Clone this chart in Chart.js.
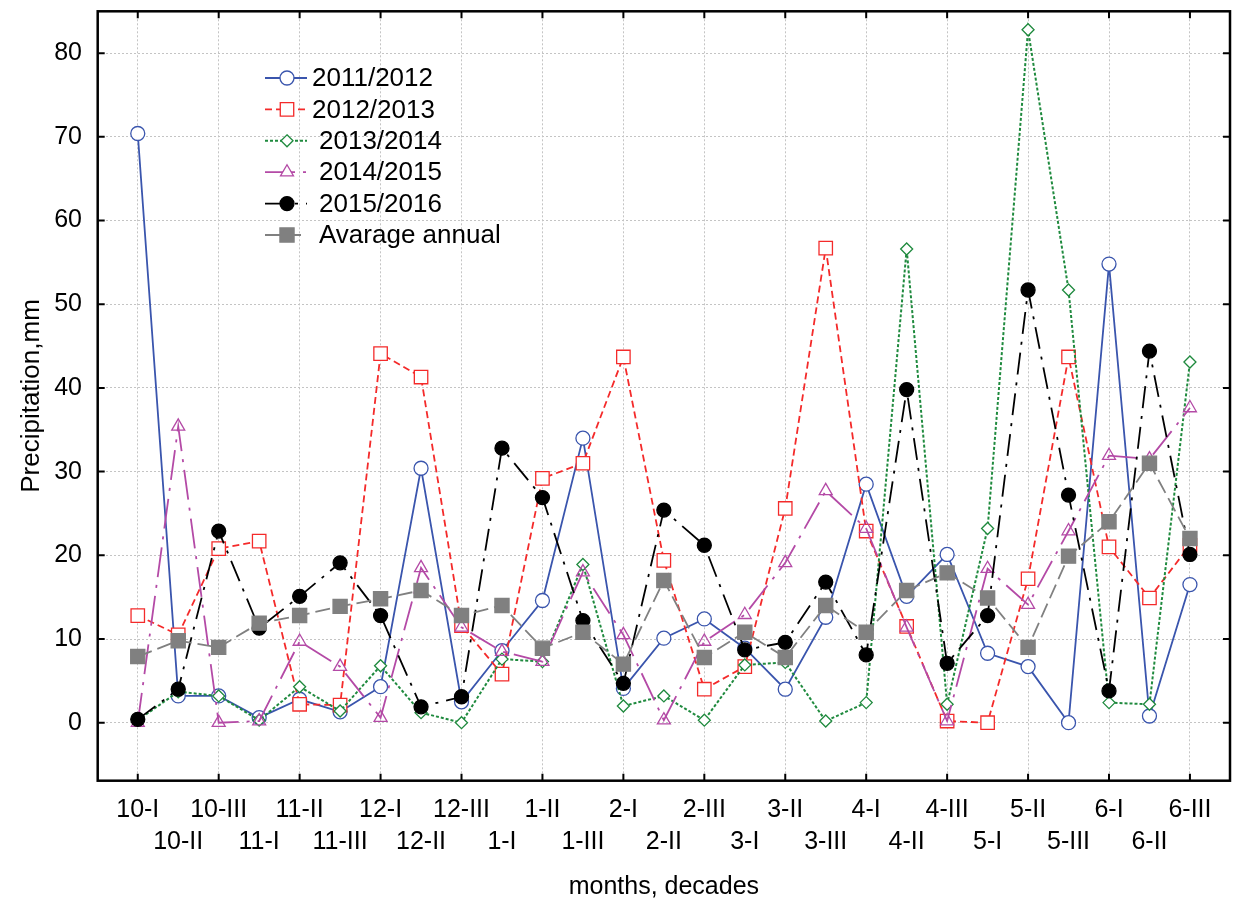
<!DOCTYPE html>
<html>
<head>
<meta charset="utf-8">
<script src="https://cdn.jsdelivr.net/npm/chart.js@4.4.0/dist/chart.umd.min.js"></script>
<style>
  html, body { margin: 0; padding: 0; background: #fff; }
  #wrap { width: 1242px; height: 901px; }
</style>
</head>
<body>
<div id="wrap"><canvas id="chart" width="1242" height="901"></canvas></div>
<script>
// decades of the hydrological year, Oct..Jun
const decades = ['10-I', '10-II', '10-III', '11-I', '11-II', '11-III', '12-I', '12-II', '12-III',
  '1-I', '1-II', '1-III', '2-I', '2-II', '2-III', '3-I', '3-II', '3-III',
  '4-I', '4-II', '4-III', '5-I', '5-II', '5-III', '6-I', '6-II', '6-III'];

// precipitation, mm
const s2011 = [70.4, 3.2, 3.2, 0.6, 2.8, 1.3, 4.3, 30.4, 2.5, 8.6, 14.6, 34.0, 4.1, 10.1, 12.4, 8.9, 4.0, 12.6, 28.5, 15.1, 20.1, 8.3, 6.7, 0.0, 54.8, 0.8, 16.5];
const s2012 = [12.8, 10.5, 20.8, 21.7, 2.2, 2.1, 44.1, 41.3, 11.6, 5.8, 29.2, 31.0, 43.7, 19.4, 4.0, 6.7, 25.6, 56.7, 22.9, 11.5, 0.2, 0.0, 17.2, 43.7, 21.0, 14.9, 21.2];
const s2013 = [0.3, 3.7, 3.2, 0.3, 4.3, 1.4, 6.8, 1.2, 0.0, 7.6, 7.3, 18.9, 2.0, 3.2, 0.3, 6.9, 7.2, 0.2, 2.4, 56.6, 2.2, 23.2, 82.8, 51.7, 2.4, 2.2, 43.1];
const s2014 = [0.0, 35.4, 0.0, 0.2, 9.7, 6.7, 0.6, 18.5, 11.4, 8.5, 7.3, 18.0, 10.5, 0.3, 9.7, 12.9, 19.1, 27.7, 23.2, 11.4, 0.2, 18.4, 14.1, 22.9, 31.9, 31.5, 37.6];
const s2015 = [0.4, 4.0, 22.9, 11.3, 15.1, 19.1, 12.8, 1.9, 3.1, 32.8, 26.9, 12.2, 4.7, 25.4, 21.2, 8.7, 9.6, 16.8, 8.1, 39.8, 7.1, 12.8, 51.7, 27.2, 3.8, 44.4, 20.1];
const avgAnnual = [7.9, 9.8, 9.0, 11.9, 12.8, 13.9, 14.8, 15.8, 12.8, 14.0, 8.9, 10.8, 7.0, 17.0, 7.8, 10.8, 7.8, 14.0, 10.8, 15.8, 17.9, 14.9, 9.0, 19.9, 24.0, 31.0, 22.0];

const yTicks = [0, 10, 20, 30, 40, 50, 60, 70, 80];

const FONT = 'Liberation Sans, Arial, sans-serif';

function pts(arr) {
  return arr.map((v, i) => ({ x: i, y: v }));
}

function series(label, data, color, dash, style, radius, fill, width, order) {
  return {
    label: label,
    data: pts(data),
    borderColor: color,
    borderWidth: width,
    borderDash: dash,
    pointStyle: style,
    pointRadius: radius,
    pointBorderColor: color,
    pointBackgroundColor: fill,
    pointBorderWidth: 1.3,
    tension: 0,
    order: order
  };
}

const datasets = [
  series('2011/2012', s2011, '#3a55ad', [], 'circle', 7, '#ffffff', 1.8, 5),
  series('2012/2013', s2012, '#f42a2a', [7, 4], 'rect', 9.5, '#ffffff', 1.8, 4),
  series('2013/2014', s2013, '#1f8a3e', [3, 2], 'rectRot', 6, '#ffffff', 2, 3),
  series('2014/2015', s2014, '#b44aa6', [30, 8, 3, 8], 'triangle', 7.5, 'rgba(255,255,255,0)', 1.8, 2),
  series('2015/2016', s2015, '#000000', [22, 8, 3, 8], 'circle', 7, '#000000', 1.8, 1),
  series('Avarage annual', avgAnnual, '#808080', [15, 6], 'rect', 10, '#808080', 1.8, 0)
];

// frame with inward tick marks, like the original
const framePlugin = {
  id: 'frame',
  afterDraw(chart) {
    const ctx = chart.ctx;
    const a = chart.chartArea;
    const xs = chart.scales.x, ys = chart.scales.y;
    ctx.save();
    ctx.strokeStyle = '#000';
    ctx.lineWidth = 2.5;
    ctx.setLineDash([]);
    ctx.strokeRect(a.left, a.top, a.right - a.left, a.bottom - a.top);
    ctx.lineWidth = 2;
    ctx.beginPath();
    decades.forEach((d, i) => {
      if (i % 2) return;
      const px = xs.getPixelForValue(i);
      ctx.moveTo(px, a.bottom); ctx.lineTo(px, a.bottom - 7);
      ctx.moveTo(px, a.top); ctx.lineTo(px, a.top + 7);
    });
    yTicks.forEach(v => {
      const py = ys.getPixelForValue(v);
      ctx.moveTo(a.left, py); ctx.lineTo(a.left + 7, py);
      ctx.moveTo(a.right, py); ctx.lineTo(a.right - 7, py);
    });
    ctx.stroke();
    ctx.restore();
  }
};

function marker(ctx, style, x, y, r) {
  ctx.beginPath();
  if (style === 'circle') {
    ctx.arc(x, y, r, 0, Math.PI * 2);
  } else if (style === 'rect') {
    const s = r * Math.SQRT1_2;
    ctx.rect(x - s, y - s, 2 * s, 2 * s);
  } else if (style === 'rectRot') {
    ctx.moveTo(x, y - r); ctx.lineTo(x + r, y); ctx.lineTo(x, y + r); ctx.lineTo(x - r, y);
    ctx.closePath();
  } else if (style === 'triangle') {
    const h = r * Math.sin(Math.PI / 3);
    ctx.moveTo(x, y - r); ctx.lineTo(x + h, y + r / 2); ctx.lineTo(x - h, y + r / 2);
    ctx.closePath();
  }
}

// legend drawn inside the plot, line sample + marker
const legendPlugin = {
  id: 'sampleLegend',
  afterDraw(chart) {
    const ctx = chart.ctx;
    ctx.save();
    chart.data.datasets.forEach((ds, i) => {
      const y = 78 + i * 31.4;
      ctx.strokeStyle = ds.borderColor;
      ctx.lineWidth = ds.borderWidth;
      ctx.setLineDash(ds.borderDash);
      ctx.beginPath();
      ctx.moveTo(265, y); ctx.lineTo(307, y);
      ctx.stroke();
      ctx.setLineDash([]);
      marker(ctx, ds.pointStyle, 287, y, ds.pointRadius);
      ctx.fillStyle = ds.pointBackgroundColor === 'rgba(255,255,255,0)' ? '#fff' : ds.pointBackgroundColor;
      ctx.fill();
      ctx.lineWidth = ds.pointBorderWidth;
      ctx.strokeStyle = ds.pointBorderColor;
      ctx.stroke();
      ctx.fillStyle = '#000';
      ctx.font = '26px ' + FONT;
      ctx.textBaseline = 'middle';
      ctx.textAlign = 'left';
      ctx.fillText(ds.label, i < 2 ? 312 : 319, y + 1);
    });
    ctx.restore();
  }
};

const ctx = document.getElementById('chart').getContext('2d');
const precipChart = new Chart(ctx, {
  type: 'line',
  data: { datasets: datasets },
  plugins: [framePlugin, legendPlugin],
  options: {
    responsive: false,
    animation: false,
    events: [],
    layout: { padding: { top: 11, right: 12, bottom: 0, left: 0 } },
    plugins: { legend: { display: false }, tooltip: { enabled: false } },
    scales: {
      x: {
        type: 'linear',
        min: -0.99,
        max: 26.99,
        afterBuildTicks(scale) {
          scale.ticks = decades.map((d, i) => ({ value: i }));
        },
        afterFit(scale) {
          scale.height = 120.3;
          scale.paddingLeft = 0;
          scale.paddingRight = 0;
        },
        grid: {
          drawTicks: false,
          color: c => (c.tick && c.tick.value % 2 === 0) ? '#c4c4c4' : 'rgba(0,0,0,0)',
          lineWidth: 1
        },
        border: { display: false, dash: [2, 2] },
        ticks: {
          autoSkip: false,
          maxRotation: 0,
          minRotation: 0,
          padding: 13.5,
          color: '#000',
          font: { family: FONT, size: 25, lineHeight: 1.27 },
          callback: (v) => {
            const lab = decades[v];
            return v % 2 === 0 ? [lab, ''] : ['', lab];
          }
        },
        title: {
          display: true,
          text: 'months, decades',
          color: '#000',
          font: { family: FONT, size: 25, lineHeight: 1.0 },
          padding: { top: 0, bottom: 1.5 }
        }
      },
      y: {
        min: -6.93,
        max: 85.0,
        afterBuildTicks(scale) {
          scale.ticks = yTicks.map(v => ({ value: v }));
        },
        afterFit(scale) {
          scale.width = 97.7;
          scale.paddingTop = 0;
          scale.paddingBottom = 0;
        },
        grid: { drawTicks: false, color: '#c4c4c4', lineWidth: 1 },
        border: { display: false, dash: [2, 2] },
        ticks: {
          padding: 15.7,
          color: '#000',
          font: { family: FONT, size: 25 }
        },
        title: {
          display: true,
          text: 'Precipitation,mm',
          color: '#000',
          font: { family: FONT, size: 26, lineHeight: 1.2 },
          padding: { top: 16, bottom: 0 }
        }
      }
    }
  }
});
</script>
</body>
</html>
